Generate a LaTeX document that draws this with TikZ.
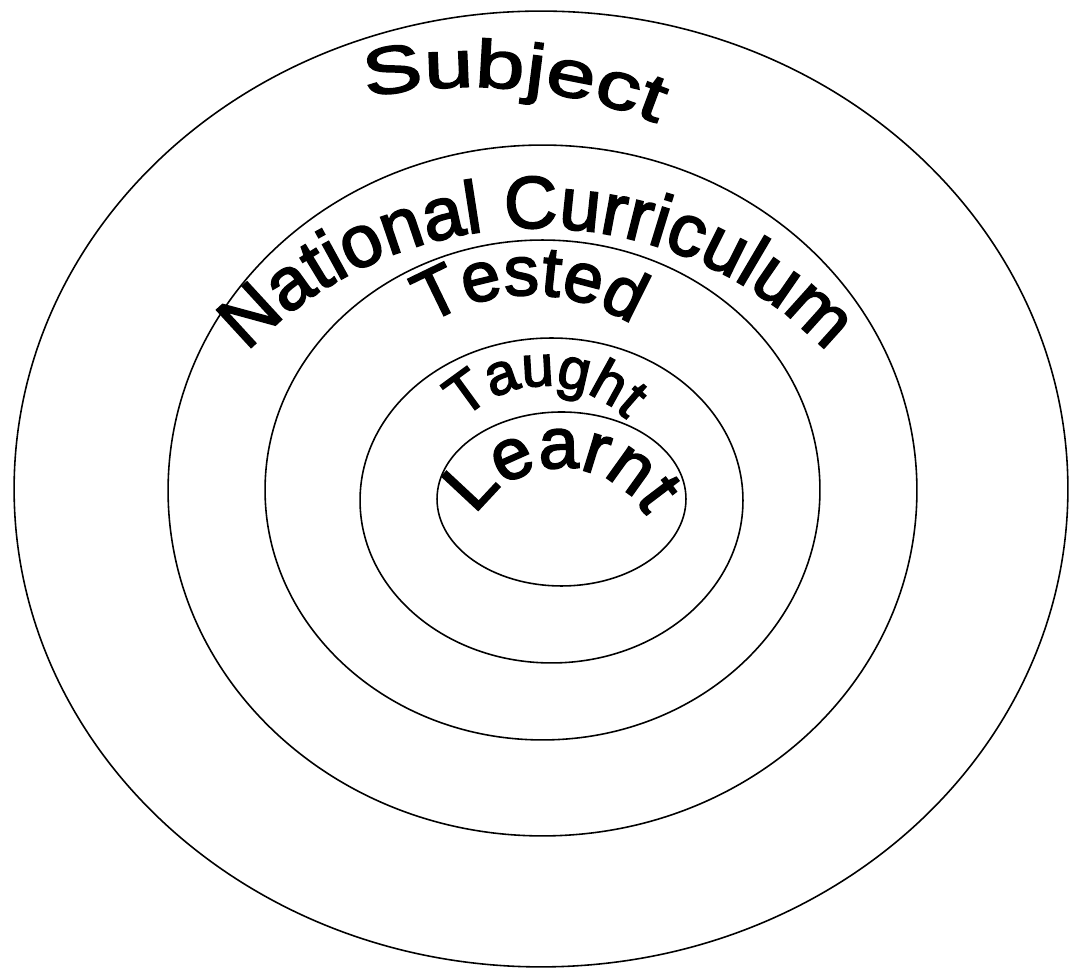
\documentclass[tikz,border=0pt]{standalone}
\usepackage{fontspec}
\setmainfont{Liberation Sans}
\newfontfamily\labelfont[FakeBold=2.5]{Liberation Sans}
\newfontfamily\widefont[FakeBold=2.5, FakeStretch=1.33]{Liberation Sans}
\usetikzlibrary{shapes.geometric, decorations.text}

\begin{document}
\begin{tikzpicture}[
        x=0.02cm, y=0.02cm,
        ring/.style={ellipse, draw=black, line width=0.9pt, inner sep=0pt},
        arctext/.style={decorate, decoration={text along path, text align=center, text={#1}}}
        ]
        \fill[white] (0,0) rectangle (1075,969);

        % Rings, outside in
        \node[ring, minimum width=21.08cm, minimum height=19.12cm] (subject) at (541,480) {};
        \node[ring, minimum width=14.98cm, minimum height=13.82cm] (natcurr) at (542.5,478.5) {};
        \node[ring, minimum width=11.10cm, minimum height=10.00cm] (tested) at (542.5,479) {};
        \node[ring, minimum width=7.66cm, minimum height=6.50cm] (taught) at (551.5,468.5) {};
        \node[ring, minimum width=4.98cm, minimum height=3.48cm] (learnt) at (561.5,470) {};

        % Curved labels
        \path[arctext={|\widefont\fontsize{38pt}{40pt}\selectfont|Subject}]
            (470,382) ++(115:500) arc[start angle=115, end angle=55, radius=500];
        \path[arctext={|\labelfont\fontsize{42pt}{44pt}\selectfont|National Curriculum}]
            (537,341) ++(150:400) arc[start angle=150, end angle=30, radius=400];
        \path[arctext={|\labelfont\fontsize{40pt}{42pt}\selectfont|Tested}]
            (530,484) ++(150:190) arc[start angle=150, end angle=30, radius=190];
        \path[arctext={|\labelfont\fontsize{33pt}{35pt}\selectfont|Taught}]
            (545,468) ++(160:115) arc[start angle=160, end angle=20, radius=115];
        \path[arctext={|\labelfont\fontsize{41pt}{43pt}\selectfont|Learnt}]
            (561,401) ++(175:100) arc[start angle=175, end angle=5, radius=100];

\end{tikzpicture}
\end{document}
